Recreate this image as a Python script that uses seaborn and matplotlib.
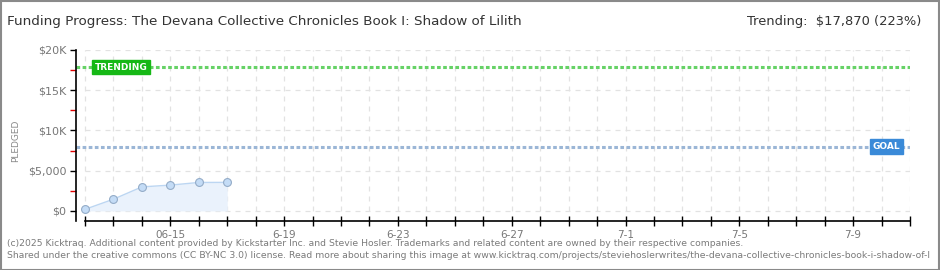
import matplotlib
matplotlib.use("Agg")
import matplotlib.pyplot as plt
from matplotlib.patches import Rectangle
import seaborn as sns
import pandas as pd

# ---- data ----
title = "Funding Progress: The Devana Collective Chronicles Book I: Shadow of Lilith"
trending_text = "Trending:  $17,870 (223%)"
pledge_days = [0, 1, 2, 3, 4, 5]            # days since 06-12
pledged = [200, 1460, 2990, 3210, 3540, 3550]
goal = 8000
trending = 17870
n_days = 30                                  # 06-12 .. 07-11
xtick_label_days = [3, 7, 11, 15, 19, 23, 27]
xtick_labels = ["06-15", "6-19", "6-23", "6-27", "7-1", "7-5", "7-9"]
ytick_values = [0, 5000, 10000, 15000, 20000]
ytick_labels = ["$0", "$5,000", "$10K", "$15K", "$20K"]
footer1 = ("(c)2025 Kicktraq. Additional content provided by Kickstarter Inc. and Stevie Hosler. "
           "Trademarks and related content are owned by their respective companies.")
footer2 = ("Shared under the creative commons (CC BY-NC 3.0) license. Read more about sharing this image at "
           "www.kicktraq.com/projects/steviehoslerwrites/the-devana-collective-chronicles-book-i-shadow-of-l")

df = pd.DataFrame({"day": pledge_days, "pledged": pledged})

sns.set_theme(style="white")
plt.rcParams["font.family"] = ["DejaVu Sans"]

W, H = 940, 270
fig = plt.figure(figsize=(W / 100, H / 100), dpi=100)
fig.patch.set_facecolor("white")

# axes placement (pixels): left 76, right 910, top 50, bottom 221
x0_px, x1_px, top_px, bot_px = 76, 910, 50, 221
ax = fig.add_axes([x0_px / W, 1 - bot_px / H, (x1_px - x0_px) / W, (bot_px - top_px) / H])
ax.set_facecolor("white")

day_px = (910 - 85) / 29.0
xmin = -(85 - 76) / day_px
ax.set_xlim(xmin, 29)
ax.set_ylim(-1250, 20000)

# grid (dashed light gray)
grid_c = "#e2e2e2"
for d in range(n_days):
    ax.plot([d, d], [0, 20000], color=grid_c, lw=0.9, ls=(0, (4, 4)), zorder=0)
for yv in [0, 5000, 10000, 15000, 20000]:
    ax.plot([0, 29], [yv, yv], color=grid_c, lw=0.9, ls=(0, (4, 4)), zorder=0)

# area + line + points
ax.fill_between(df["day"], df["pledged"], 0, color="#eaf2fc", zorder=1, lw=0)
sns.lineplot(data=df, x="day", y="pledged", ax=ax, color="#bcd6f2", lw=1.0, zorder=2)
sns.scatterplot(data=df, x="day", y="pledged", ax=ax, s=32, color="#c4dcf6",
                edgecolor="#94acc8", linewidth=0.8, zorder=3)

# trending & goal lines
ax.axhline(trending, color="#66d266", lw=2.2, ls=(0, (1.2, 0.8)), zorder=2)
ax.axhline(goal, color="#9bb6d6", lw=2.2, ls=(0, (1.2, 0.8)), zorder=2)

# label boxes
ax.text(0.35, trending, "TRENDING", color="white", fontsize=6.5, fontweight="bold",
        va="center", ha="left", zorder=5,
        bbox=dict(boxstyle="square,pad=0.3", fc="#16b816", ec="#16b816"))
ax.text(28.65, goal, "GOAL", color="white", fontsize=6.5, fontweight="bold",
        va="center", ha="right", zorder=5,
        bbox=dict(boxstyle="square,pad=0.3", fc="#3a8ad8", ec="#3a8ad8"))

# spines
for s in ["top", "right"]:
    ax.spines[s].set_visible(False)
for s in ["left", "bottom"]:
    ax.spines[s].set_color("black")
    ax.spines[s].set_linewidth(1.2)
ax.spines["left"].set_bounds(-1250, 20000)
ax.spines["bottom"].set_bounds(0, 29)

# y ticks
ax.set_yticks(ytick_values)
ax.set_yticklabels(ytick_labels)
ax.set_yticks([2500, 7500, 12500, 17500], minor=True)
ax.tick_params(axis="y", which="major", left=True, direction="out", length=4, width=1,
               color="black", labelsize=8, labelcolor="#777777", pad=3)
ax.tick_params(axis="y", which="minor", left=True, direction="out", length=4, width=1,
               color="#e00000")

# x ticks
ax.set_xticks(range(n_days), minor=True)
ax.set_xticks(xtick_label_days)
ax.set_xticklabels(xtick_labels)
ax.tick_params(axis="x", which="both", bottom=True, direction="inout", length=7, width=1,
               color="black", labelsize=7.5, labelcolor="#777777", pad=3)
ax.set_xlabel("")
ax.set_ylabel("PLEDGED", fontsize=6.5, color="#888888")
ax.yaxis.set_label_coords((20 - 76) / (910 - 76), 0.47)

# title texts
fig.text(7 / W, 1 - 22 / H, title, fontsize=9.7, color="#333333", va="center", ha="left")
fig.text(921 / W, 1 - 22 / H, trending_text, fontsize=9.4, color="#333333", va="center", ha="right")

# footer
fig.text(7 / W, 1 - 243 / H, footer1, fontsize=6.65, color="#7a7a7a", va="center", ha="left")
fig.text(7 / W, 1 - 256 / H, footer2, fontsize=6.68, color="#7a7a7a", va="center", ha="left")

# border
fig.patches.append(Rectangle((0.5 / W, 0.5 / H), 1 - 1.5 / W, 1 - 1.5 / H, transform=fig.transFigure,
                             fill=False, ec="#8a8a8a", lw=1.5))

fig.savefig("out.png", dpi=100, facecolor="white")
